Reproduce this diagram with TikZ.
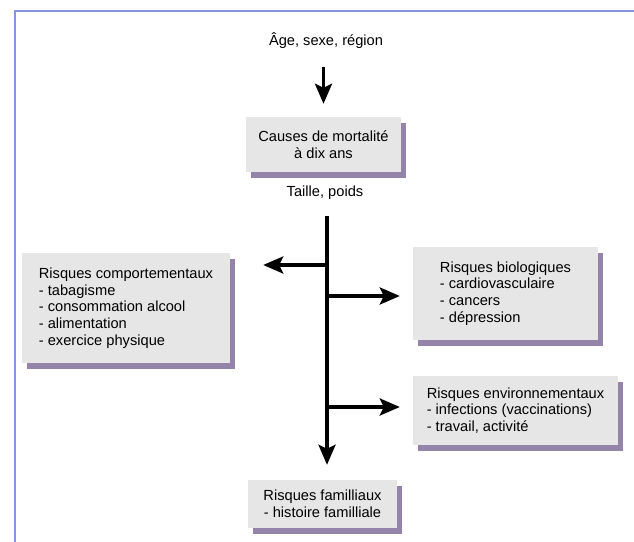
\documentclass[tikz,border=0pt]{standalone}
\usepackage{fontspec}
\setmainfont{Liberation Sans}
\usetikzlibrary{arrows.meta, shadows}
\definecolor{cadre}{RGB}{135,150,220}
\definecolor{fond}{RGB}{230,230,230}
\definecolor{ombre}{RGB}{148,132,170}

\begin{document}
\begin{tikzpicture}[x=1bp, y=-1bp]
    \tikzstyle{boite}=[fill=fond, inner sep=2bp, align=left, font=\fontsize{14.7}{16.8}\selectfont,
      drop shadow={shadow xshift=5bp, shadow yshift=-6bp, fill=ombre, opacity=1}]
    \tikzstyle{libre}=[inner sep=1bp, font=\fontsize{14.7}{16.8}\selectfont]
    \tikzstyle{fleche}=[line width=3.5bp, -{Stealth[length=20bp, width=17bp, inset=4bp]}]

    \useasboundingbox (0,0) rectangle (634,542);
    \draw[cadre, line width=2bp] (14.5,542) -- (14.5,11) -- (634,11);

    \node[libre] (age) at (326,41) {Âge, sexe, région};
    \node[boite, align=center, minimum width=155bp, minimum height=55bp] (causes) at (323.5,144.5) {Causes de mortalité\\à dix ans};
    \node[libre] (taille) at (325,193) {Taille, poids};

    \node[boite, minimum width=208bp, minimum height=110bp] (comp) at (126,308)
      {Risques comportementaux\\- tabagisme\\- consommation alcool\\- alimentation\\- exercice physique};
    \node[boite, minimum width=185bp, minimum height=93bp] (bio) at (505.5,293.5)
      {Risques biologiques\\- cardiovasculaire\\- cancers\\- dépression};
    \node[boite, minimum width=205bp, minimum height=69bp] (env) at (515.5,410.5)
      {Risques environnementaux\\- infections (vaccinations)\\- travail, activité};
    \node[boite, align=center, minimum width=149bp, minimum height=48bp] (fam) at (322.5,504)
      {Risques familliaux\\- histoire familliale};

    \coordinate (j1) at (327,265);
    \coordinate (j2) at (327,296);
    \coordinate (j3) at (327,407);

    \draw[fleche, shorten <=17bp, shorten >=13bp] (age.south -| causes.north) -- (causes.north);
    \draw[fleche, shorten <=15bp, shorten >=15bp] (taille.south -| j1) -- (fam.north -| j1);
    \draw[fleche, shorten >=33bp] (j1) -- (j1 -| comp.east);
    \draw[fleche, shorten >=13bp] (j2) -- (j2 -| bio.west);
    \draw[fleche, shorten >=13bp] (j3) -- (j3 -| env.west);
\end{tikzpicture}
\end{document}
